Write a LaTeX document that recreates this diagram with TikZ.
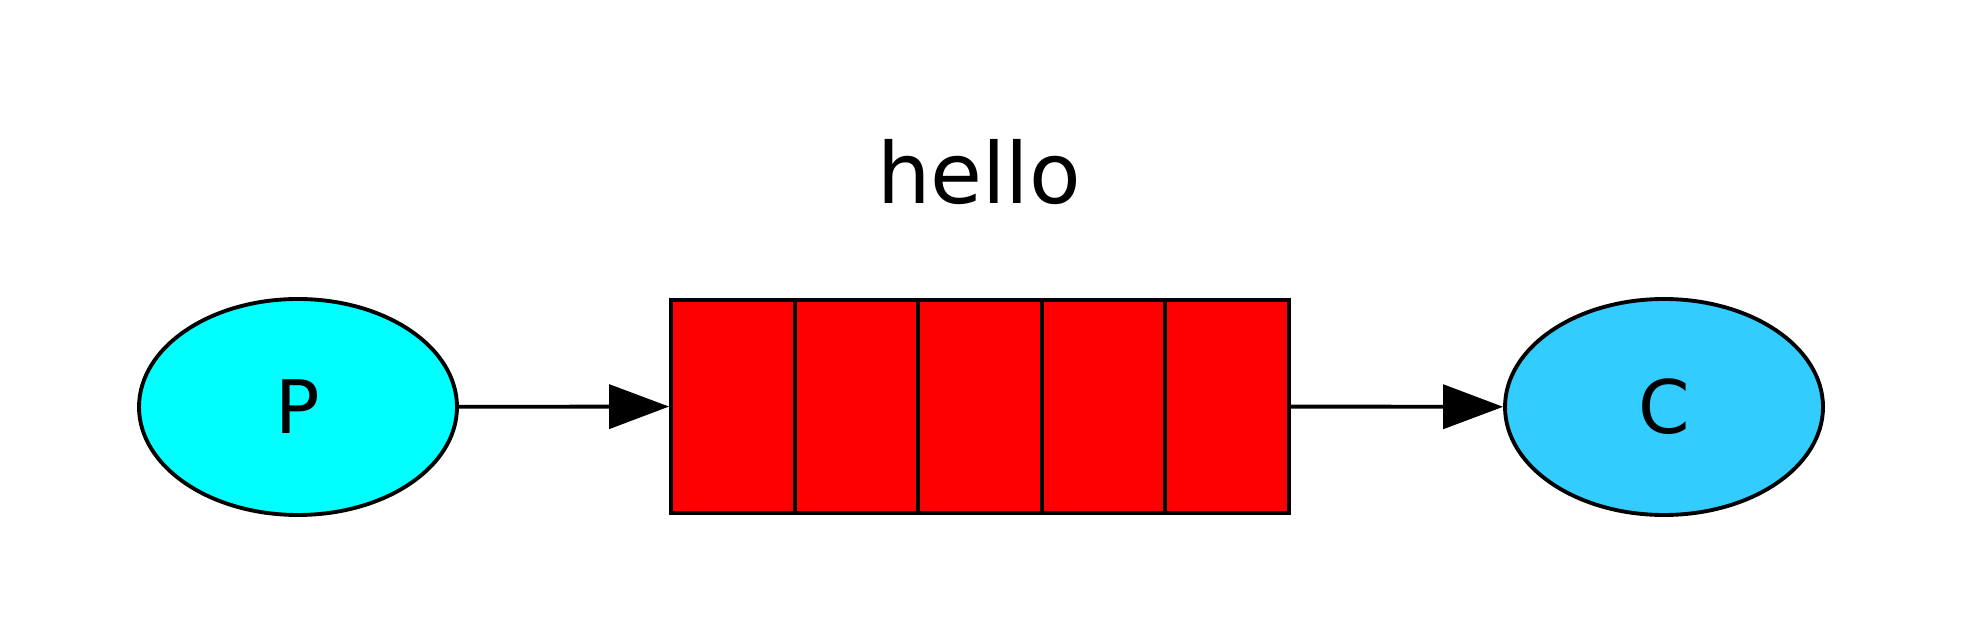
\documentclass[tikz,border=0pt]{standalone}
\usepackage{fontspec}
\setmainfont{DejaVu Sans}
\usepackage{xcolor}
\usepackage{tikz}
\usetikzlibrary{shapes.geometric,arrows.meta}

\definecolor{prodcol}{HTML}{00FFFF}
\definecolor{conscol}{HTML}{33CCFF}
\definecolor{queuecol}{HTML}{FF0000}

\tikzset{
	endpoint/.style={ellipse, draw=black, line width=1.1pt, minimum width=3.18cm, minimum height=2.16cm, inner sep=0pt, font=\fontsize{21}{25}\selectfont},
	cell/.style={rectangle, draw=black, line width=1.1pt, fill=queuecol, minimum width=1.236cm, minimum height=2.13cm, inner sep=0pt},
	link/.style={line width=1.1pt, draw=black, -{Triangle[length=6mm,width=4.4mm]}}
}

\begin{document}
\begin{tikzpicture}
		\useasboundingbox (0,0) rectangle (19.78,6.44);
		
		\node[endpoint, fill=prodcol] (P) at (2.98,2.37) {P};
		\node[endpoint, fill=conscol] (C) at (16.64,2.37) {C};
		
		\foreach \i in {1,...,5}{
			\node[cell] (q\i) at ({6.71+1.236*(\i-0.5)},2.375) {};
		}
		
		\node[font=\fontsize{24}{29}\selectfont] (qname) at (9.79,4.72) {hello};
		
		\draw[link] (P) -- (q1);
		\draw[link] (q5) -- (C);
	\end{tikzpicture}
\end{document}
